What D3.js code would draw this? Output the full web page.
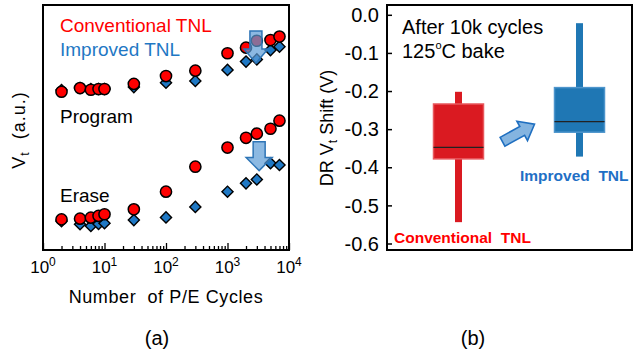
<!DOCTYPE html>
<html><head><meta charset="utf-8">
<script src="https://cdn.jsdelivr.net/npm/d3@7"></script>
<style>
html,body{margin:0;padding:0;background:#fff;}
svg{display:block;}
text{font-family:"Liberation Sans",Arial,sans-serif;white-space:pre;}
</style></head>
<body>
<svg id="c" width="640" height="360"></svg>
<script>
// ---------- Data (a) ----------
const cycles     = [2,4,6,8,10,30,100,300,1000,2000,3000,5000,7000];
const progConv   = [6.46,6.61,6.54,6.57,6.57,6.78,7.10,7.32,8.03,8.26,8.54,8.57,8.71];
const progImp    = [6.53,6.61,6.57,6.57,6.57,6.65,6.83,6.90,7.35,7.69,7.78,8.16,8.30];
const eraseConv  = [1.25,1.28,1.32,1.39,1.46,1.66,2.38,3.40,4.18,4.58,4.75,4.95,5.28];
const eraseImp   = [1.18,1.05,0.98,1.06,1.09,1.22,1.33,1.76,2.38,2.72,2.88,3.54,3.47];
const xExponents = [0,1,2,3,4];
// ---------- Data (b) ----------
const groups      = ["Conventional TNL","Improved TNL"];
const whiskerLow  = [-0.544,-0.372];
const q1          = [-0.378,-0.308];
const median      = [-0.348,-0.280];
const q3          = [-0.234,-0.191];
const whiskerHigh = [-0.202,-0.022];
const yTicksB     = [0.0,-0.1,-0.2,-0.3,-0.4,-0.5,-0.6];
const yTickLabelsB= ["0.0","-0.1","-0.2","-0.3","-0.4","-0.5","-0.6"];

const RED="#ff0000", BLUE="#1f78c4";
const svg=d3.select("#c");

// ================= Panel (a) =================
const xA=d3.scaleLog().domain([1,10000]).range([43,289]);
const yA=d3.scaleLinear().domain([0,10]).range([250,5]);
const gA=svg.append("g");

// minor/major ticks (inward)
const minor=[];
for(let e=0;e<4;e++) for(let m=2;m<=9;m++) minor.push(m*Math.pow(10,e));
gA.append("g").attr("transform","translate(0,250)")
  .call(d3.axisBottom(xA).tickValues(minor).tickSize(-4).tickFormat(""))
  .call(g=>{g.select(".domain").remove();g.selectAll("line").attr("stroke","#000").attr("stroke-width",1.3);});
gA.append("g").attr("transform","translate(0,250)")
  .call(d3.axisBottom(xA).tickValues(xExponents.map(e=>Math.pow(10,e))).tickSize(-7).tickFormat(""))
  .call(g=>{g.select(".domain").remove();g.selectAll("line").attr("stroke","#000").attr("stroke-width",1.3);});

// tick labels 10^n
xExponents.forEach(e=>{
  const t=gA.append("text").attr("x",xA(Math.pow(10,e))).attr("y",273)
    .attr("text-anchor","middle").attr("font-size",17).attr("fill","#000");
  t.append("tspan").text("10");
  t.append("tspan").attr("font-size",12).attr("dy",-7).text(String(e));
});

// frame
gA.append("rect").attr("x",43).attr("y",5).attr("width",246).attr("height",245)
  .attr("fill","none").attr("stroke","#000").attr("stroke-width",2);

const diamond=d3.symbol(d3.symbolSquare,62);
function drawDiamonds(vals){
  gA.append("g").selectAll("path").data(cycles.map((c,i)=>[c,vals[i]])).join("path")
    .attr("d",diamond).attr("transform",d=>`translate(${xA(d[0])},${yA(d[1])}) rotate(45)`)
    .attr("fill",BLUE).attr("stroke","#000").attr("stroke-width",1.4);
}
function drawCircles(vals){
  gA.append("g").selectAll("circle").data(cycles.map((c,i)=>[c,vals[i]])).join("circle")
    .attr("cx",d=>xA(d[0])).attr("cy",d=>yA(d[1])).attr("r",5.6)
    .attr("fill",RED).attr("stroke","#000").attr("stroke-width",1.5);
}
drawDiamonds(progImp); drawDiamonds(eraseImp);
drawCircles(progConv); drawCircles(eraseConv);

// arrows
function vArrow(xc,yTop,yTip,sw,hw,hl){
  const yh=yTip-hl;
  return `M${xc-sw},${yTop}L${xc+sw},${yTop}L${xc+sw},${yh}L${xc+hw},${yh}L${xc},${yTip}L${xc-hw},${yh}L${xc-sw},${yh}Z`;
}
gA.append("path").attr("d",vArrow(xA(2900),yA(8.94),yA(7.63),6,12,14))
  .attr("fill","#5b9bd5").attr("fill-opacity",0.7).attr("stroke","#2e75b6").attr("stroke-width",1.5);
gA.append("path").attr("d",vArrow(xA(3270),yA(4.42),yA(3.24),6,13,13))
  .attr("fill","#5b9bd5").attr("fill-opacity",0.7).attr("stroke","#2e75b6").attr("stroke-width",1.5);

// texts
gA.append("text").attr("x",60).attr("y",32).attr("font-size",19).attr("fill",RED).text("Conventional TNL");
gA.append("text").attr("x",60).attr("y",56).attr("font-size",19).attr("fill",BLUE).text("Improved TNL");
gA.append("text").attr("x",60).attr("y",123).attr("font-size",19).attr("fill","#000").text("Program");
gA.append("text").attr("x",60).attr("y",202).attr("font-size",19).attr("fill","#000").text("Erase");
gA.append("text").attr("x",166).attr("y",303).attr("text-anchor","middle").attr("font-size",18)
  .attr("letter-spacing",0.6).attr("fill","#000").text("Number  of P/E Cycles");
{
  const t=gA.append("text").attr("transform","translate(25,130) rotate(-90)")
    .attr("text-anchor","middle").attr("font-size",18).attr("letter-spacing",1).attr("fill","#000");
  t.append("tspan").text("V");
  t.append("tspan").attr("font-size",12).attr("dy",4).text("t");
  t.append("tspan").attr("dy",-4).text("  (a.u.)");
}
gA.append("text").attr("x",157).attr("y",345).attr("text-anchor","middle")
  .attr("font-family","Open Sans").attr("font-size",20).attr("fill","#000").text("(a)");

// ================= Panel (b) =================
const gB=svg.append("g");
const yB=d3.scaleLinear().domain([0,-0.6]).range([14.8,243.5]);
const xB=d3.scalePoint().domain(groups).range([458.5,579.5]);
const boxW=50, whW=7;
const fills=["#da1a21","#1f77b4"], strokes=["#e8585d","#4d95cc"];

// y ticks inward
gB.append("g").attr("transform","translate(387,0)")
  .call(d3.axisRight(yB).tickValues(yTicksB).tickSize(5).tickFormat(""))
  .call(g=>{g.select(".domain").remove();g.selectAll("line").attr("stroke","#000").attr("stroke-width",1.5);});
yTicksB.forEach((v,i)=>{
  gB.append("text").attr("x",379).attr("y",yB(v)).attr("dy","0.36em").attr("text-anchor","end")
    .attr("font-size",20).attr("fill","#000").text(yTickLabelsB[i]);
});

groups.forEach((g,i)=>{
  const cx=xB(g);
  gB.append("rect").attr("x",cx-whW/2).attr("y",yB(whiskerHigh[i])).attr("width",whW)
    .attr("height",yB(whiskerLow[i])-yB(whiskerHigh[i])).attr("fill",fills[i]);
  gB.append("rect").attr("x",cx-boxW/2).attr("y",yB(q3[i])).attr("width",boxW)
    .attr("height",yB(q1[i])-yB(q3[i])).attr("fill",fills[i]).attr("stroke",strokes[i]).attr("stroke-width",1.5);
  gB.append("line").attr("x1",cx-boxW/2).attr("x2",cx+boxW/2).attr("y1",yB(median[i])).attr("y2",yB(median[i]))
    .attr("stroke","#222").attr("stroke-width",1.3);
});

// frame
gB.append("rect").attr("x",387).attr("y",5).attr("width",245).attr("height",245)
  .attr("fill","none").attr("stroke","#000").attr("stroke-width",2);

// diagonal arrow
function arrow(x1,y1,x2,y2,sw,hw,hl){
  const L=Math.hypot(x2-x1,y2-y1), ang=Math.atan2(y2-y1,x2-x1)*180/Math.PI;
  const p=`M0,${-sw}L${L-hl},${-sw}L${L-hl},${-hw}L${L},0L${L-hl},${hw}L${L-hl},${sw}L0,${sw}Z`;
  return {p,t:`translate(${x1},${y1}) rotate(${ang})`};
}
{
  const a=arrow(xB(groups[0])+44,yB(-0.333),xB(groups[0])+76,yB(-0.287),5,11,14);
  gB.append("path").attr("d",a.p).attr("transform",a.t)
    .attr("fill","#5b9bd5").attr("fill-opacity",0.75).attr("stroke","#1f6fc0").attr("stroke-width",1.6);
}

gB.append("text").attr("x",402).attr("y",34).attr("font-size",20).attr("fill","#000").text("After 10k cycles");
{
  const t=gB.append("text").attr("x",402).attr("y",58).attr("font-size",20).attr("fill","#000");
  t.append("tspan").text("125");
  t.append("tspan").attr("font-size",11).attr("dy",-9).text("o");
  t.append("tspan").attr("dy",9).text("C bake");
}
gB.append("text").attr("x",520).attr("y",181).attr("font-size",15.5).attr("font-weight","bold")
  .attr("fill","#1f6fc5").text("Improved  TNL");
gB.append("text").attr("x",394).attr("y",243).attr("font-size",15.5).attr("font-weight","bold")
  .attr("fill",RED).text("Conventional  TNL");
{
  const t=gB.append("text").attr("transform","translate(333,128) rotate(-90)")
    .attr("text-anchor","middle").attr("font-size",18).attr("fill","#000");
  t.append("tspan").text("DR V");
  t.append("tspan").attr("font-size",12).attr("dy",4).text("t");
  t.append("tspan").attr("dy",-4).text(" Shift (V)");
}
gB.append("text").attr("x",473).attr("y",345).attr("text-anchor","middle")
  .attr("font-family","Open Sans").attr("font-size",20).attr("fill","#000").text("(b)");
</script>
</body></html>
